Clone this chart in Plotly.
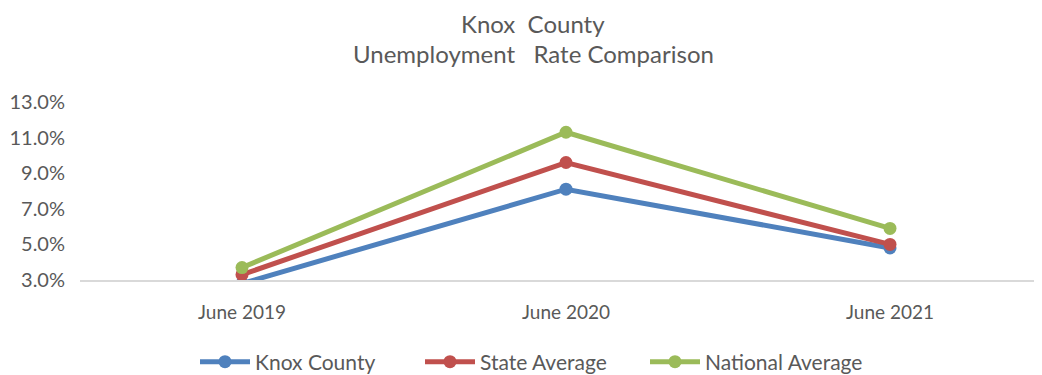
import plotly.graph_objects as go

categories = ["June 2019", "June 2020", "June 2021"]
knox = [2.8, 8.1, 4.8]
state = [3.3, 9.6, 5.0]
national = [3.7, 11.3, 5.9]
y_ticks = [3, 5, 7, 9, 11, 13]
y_tick_labels = ["3.0%", "5.0%", "7.0%", "9.0%", "11.0%", "13.0%"]

FONT = "Lato"
GRAY = "#595959"
# page body has an 8px margin, so the figure is offset to compensate
OFF = 8
W, H = 1042 - OFF, 375 - OFF
L, R = 80 - OFF, 0
T = 102 - OFF
B = H - (280 - OFF)

fig = go.Figure()
for name, vals, color in [("Knox County", knox, "#4F81BD"),
                          ("State Average", state, "#C0504D"),
                          ("National Average", national, "#9BBB59")]:
    fig.add_trace(go.Scatter(
        x=categories, y=vals, name=name, mode="lines+markers",
        line=dict(color=color, width=5),
        marker=dict(color=color, size=13),
    ))

ph = H - T - B
pw = W - L - R
title_x = (533 - OFF - L) / pw

fig.update_layout(
    width=W, height=H,
    margin=dict(l=L, r=R, t=T, b=B, autoexpand=False),
    paper_bgcolor="white", plot_bgcolor="white",
    font=dict(family=FONT, color=GRAY, size=20),
    showlegend=True,
    legend=dict(orientation="h", xref="container", yref="container",
                x=(195 - OFF) / W, xanchor="left",
                y=(H - (362 - OFF)) / H, yanchor="middle",
                font=dict(size=21, color=GRAY), itemwidth=50,
                entrywidth=160, entrywidthmode="pixels"),
    annotations=[
        dict(text="Knox\u00a0 County", x=title_x, xref="paper",
             y=1 + T / ph, yref="paper", yanchor="top", borderpad=0,
             showarrow=False, font=dict(size=24, color=GRAY)),
        dict(text="Unemployment\u00a0\u00a0 Rate Comparison", x=title_x, xref="paper",
             y=1 + (T - (53 - OFF)) / ph, yref="paper", yanchor="middle",
             showarrow=False, font=dict(size=24, color=GRAY)),
    ],
)

x_hi = -0.5 + pw / 324.0
fig.update_xaxes(type="category", range=[-0.5, x_hi], showgrid=False, zeroline=False,
                 showline=True, linecolor="#D9D9D9", linewidth=1.5, ticks="",
                 ticklabelstandoff=14, tickfont=dict(size=19, color=GRAY))
fig.update_yaxes(range=[3, 13], tickvals=y_ticks, ticktext=y_tick_labels,
                 showgrid=False, zeroline=False, showline=False, ticks="",
                 ticklabelstandoff=14, tickfont=dict(size=20, color=GRAY))

fig.write_html("out.html")
